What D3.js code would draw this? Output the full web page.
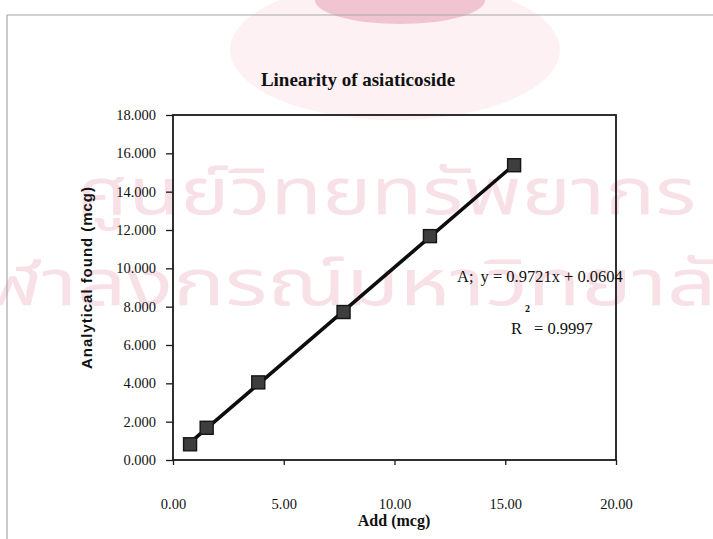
<!DOCTYPE html>
<html>
<head>
<meta charset="utf-8">
<script src="https://cdn.jsdelivr.net/npm/d3@7"></script>
<style>
  html, body { margin: 0; padding: 0; background: #ffffff; }
  svg { display: block; }
</style>
</head>
<body>
<script>
// ---- data ----
const addX   = [0.77, 1.52, 3.85, 7.70, 11.60, 15.40];   // Add (mcg)
const foundY = [0.82, 1.68, 4.05, 7.72, 11.68, 15.38];   // Analytical found (mcg)
const xTickValues = [0, 5, 10, 15, 20];
const yTickValues = [0, 2, 4, 6, 8, 10, 12, 14, 16, 18];
const titleText = "Linearity of asiaticoside";
const xTitle = "Add (mcg)";
const yTitle = "Analytical found (mcg)";
const eqLabel = ["A;", "y = 0.9721x + 0.0604"];
const r2Label = ["R", "2", "= 0.9997"];
const watermark = ["ศูนย์วิทยทรัพยากร", "จุฬาลงกรณ์มหาวิทยาลัย"];

const W = 713, H = 539;
const plot = { left: 173, right: 616, top: 115, bottom: 460 };
const serif = "'Liberation Serif', 'Times New Roman', serif";
const sans = "'Liberation Sans', Arial, sans-serif";

const svg = d3.select("body").append("svg").attr("width", W).attr("height", H);

// faint watermark (emblem + Thai text)
const wm = svg.append("g");
wm.append("ellipse").attr("cx", 395).attr("cy", 50).attr("rx", 165).attr("ry", 70)
  .attr("fill", "#fdf1f4");
wm.append("ellipse").attr("cx", 400).attr("cy", 0).attr("rx", 85).attr("ry", 24)
  .attr("fill", "#f1c4d1");
wm.selectAll("text.wm").data(watermark).join("text")
  .attr("class", "wm")
  .attr("x", (d, i) => i === 0 ? 76 : -62)
  .attr("y", (d, i) => i === 0 ? 214 : 305)
  .attr("textLength", (d, i) => i === 0 ? 620 : 830)
  .attr("lengthAdjust", "spacingAndGlyphs")
  .attr("font-family", "'Noto Sans Thai', 'Noto Sans', 'DejaVu Sans', sans-serif")
  .attr("font-size", 64)
  .attr("fill", "#f8e0e7")
  .text(d => d);

// outer frame (scanned page border)
svg.append("line").attr("x1", 7).attr("x2", W).attr("y1", 15).attr("y2", 15)
  .attr("stroke", "#a8a8a8").attr("stroke-width", 1.2);
svg.append("line").attr("x1", 7).attr("x2", 7).attr("y1", 15).attr("y2", H)
  .attr("stroke", "#a8a8a8").attr("stroke-width", 1.2);

// scales
const x = d3.scaleLinear().domain([0, 20]).range([plot.left, plot.right]);
const y = d3.scaleLinear().domain([0, 18]).range([plot.bottom, plot.top]);

// plot border
svg.append("rect")
  .attr("x", plot.left).attr("y", plot.top)
  .attr("width", plot.right - plot.left).attr("height", plot.bottom - plot.top)
  .attr("fill", "none").attr("stroke", "#1a1a1a").attr("stroke-width", 1.8);

// y axis
const yAxis = d3.axisLeft(y).tickValues(yTickValues).tickSize(7).tickPadding(10)
  .tickFormat(d3.format(".3f"));
const gy = svg.append("g").attr("transform", `translate(${plot.left},0)`).call(yAxis);
gy.select(".domain").remove();
gy.selectAll(".tick line").attr("stroke", "#1a1a1a").attr("stroke-width", 1.3);
gy.selectAll(".tick text").attr("font-family", serif).attr("font-size", 14.5)
  .attr("fill", "#111");

// x axis
const xAxis = d3.axisBottom(x).tickValues(xTickValues).tickSize(5).tickPadding(34)
  .tickFormat(d3.format(".2f"));
const gx = svg.append("g").attr("transform", `translate(0,${plot.bottom})`).call(xAxis);
gx.select(".domain").remove();
gx.selectAll(".tick line").attr("stroke", "#1a1a1a").attr("stroke-width", 1.3);
gx.selectAll(".tick text").attr("font-family", serif).attr("font-size", 14.5)
  .attr("fill", "#111");

// title
svg.append("text").attr("x", 358).attr("y", 86).attr("text-anchor", "middle")
  .attr("font-family", serif).attr("font-weight", "bold").attr("font-size", 19)
  .attr("fill", "#111").text(titleText);

// axis titles
svg.append("text").attr("x", 394).attr("y", 526)
  .attr("text-anchor", "middle").attr("font-family", serif).attr("font-weight", "bold")
  .attr("font-size", 16).attr("fill", "#111").text(xTitle);
svg.append("text").attr("transform", "translate(92,278) rotate(-90)")
  .attr("text-anchor", "middle").attr("font-family", sans).attr("font-weight", "bold")
  .attr("font-size", 15).attr("textLength", 182).attr("lengthAdjust", "spacing")
  .attr("fill", "#111").text(yTitle);

// linear trendline (least squares from the points)
const mx = d3.mean(addX), my = d3.mean(foundY);
const slope = d3.sum(addX, (v, i) => (v - mx) * (foundY[i] - my)) / d3.sum(addX, v => (v - mx) ** 2);
const icpt = my - slope * mx;
const xExt = d3.extent(addX);
svg.append("path")
  .datum(xExt.map(v => [v, slope * v + icpt]))
  .attr("d", d3.line().x(d => x(d[0])).y(d => y(d[1])))
  .attr("stroke", "#0d0d0d").attr("stroke-width", 3.6).attr("fill", "none");

// markers
const pts = addX.map((v, i) => [v, foundY[i]]);
const ms = 13;
svg.selectAll("rect.pt").data(pts).join("rect")
  .attr("class", "pt")
  .attr("x", d => x(d[0]) - ms / 2).attr("y", d => y(d[1]) - ms / 2)
  .attr("width", ms).attr("height", ms)
  .attr("fill", "#3e3e3e").attr("stroke", "#151515").attr("stroke-width", 1.4);

// equation labels
const eq = svg.append("text").attr("x", 457).attr("y", 282)
  .attr("font-family", serif).attr("font-size", 16.5).attr("fill", "#111");
eq.append("tspan").text(eqLabel[0]);
eq.append("tspan").attr("dx", 7).text(eqLabel[1]);

const r2 = svg.append("text").attr("x", 511).attr("y", 334)
  .attr("font-family", serif).attr("font-size", 16.5).attr("fill", "#111");
r2.append("tspan").text(r2Label[0]);
r2.append("tspan").attr("dy", -22).attr("dx", 3).attr("font-size", 10).attr("font-weight", "bold").text(r2Label[1]);
r2.append("tspan").attr("dy", 22).attr("dx", 4).text(r2Label[2]);
</script>
</body>
</html>
